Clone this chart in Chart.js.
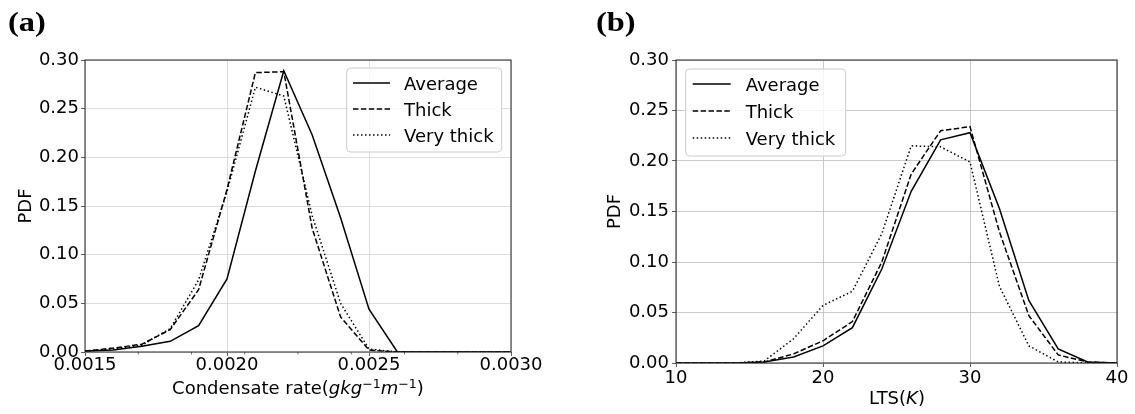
<!DOCTYPE html>
<html>
<head>
<meta charset="utf-8">
<script src="https://cdn.jsdelivr.net/npm/chart.js@4.4.0/dist/chart.umd.min.js"></script>
<style>
  html, body { margin: 0; padding: 0; background: #fff; }
  #wrap { position: relative; width: 1135px; height: 414px; overflow: hidden; }
  canvas { position: absolute; top: 0; }
  .tag { position: absolute; font: bold 27px "Liberation Serif", serif; line-height: 28px; transform: scaleX(1.2); transform-origin: left top; }
  .xtitle { position: absolute; font: 18px "DejaVu Sans", sans-serif; line-height: 18px; white-space: nowrap; transform: translateX(-50%); color: #000; }
  .xtitle .sup { position: relative; top: -0.5em; font-size: 0.7em; }
</style>
</head>
<body>
<div id="wrap">
  <canvas id="chartA" width="567" height="414" style="left:0"></canvas>
  <canvas id="chartB" width="568" height="414" style="left:567px"></canvas>
  <div class="tag" style="left:8px;top:8px">(a)</div>
  <div class="tag" style="left:596px;top:8px">(b)</div>
  <div class="xtitle" style="left:298px;top:379px">Condensate rate(<i>gkg</i><span class="sup">−1</span><i>m</i><span class="sup">−1</span>)</div>
  <div class="xtitle" style="left:897px;top:389px">LTS(<i>K</i>)</div>
</div>
<script>
// panel (a): condensate rate
let rateA = [0.0015, 0.0016, 0.0017, 0.0018, 0.0019, 0.0020, 0.0021, 0.0022,
             0.0023, 0.0024, 0.0025, 0.0026, 0.0027, 0.0028, 0.0029, 0.0030];
let averageA   = [0.001, 0.002, 0.006, 0.011, 0.027, 0.075, 0.186, 0.289, 0.223, 0.138, 0.044, 0, 0, 0, 0, 0];
let thickA     = [0.001, 0.004, 0.008, 0.023, 0.064, 0.167, 0.287, 0.288, 0.127, 0.036, 0.002, 0, 0, 0, 0, 0];
let veryThickA = [0.001, 0.003, 0.007, 0.024, 0.074, 0.165, 0.272, 0.263, 0.140, 0.050, 0.003, 0, 0, 0, 0, 0];
let xTicksA = [0.0015, 0.0020, 0.0025, 0.0030];
let minorTicksA = [0.0016875, 0.001875, 0.0020625, 0.00225, 0.0024375, 0.002625, 0.0028125];

// panel (b): LTS
let ltsB = [10, 12, 14, 16, 18, 20, 22, 24, 26, 28, 30, 32, 34, 36, 38, 40];
let averageB   = [0, 0, 0, 0.001, 0.006, 0.017, 0.035, 0.093, 0.170, 0.221, 0.228, 0.153, 0.062, 0.014, 0.001, 0];
let thickB     = [0, 0, 0, 0.001, 0.009, 0.022, 0.041, 0.100, 0.187, 0.230, 0.234, 0.130, 0.047, 0.008, 0.001, 0];
let veryThickB = [0, 0, 0, 0.002, 0.024, 0.057, 0.071, 0.128, 0.215, 0.214, 0.199, 0.076, 0.017, 0.001, 0, 0];
let xTicksB = [10, 20, 30, 40];

let yTicks = [0, 0.05, 0.10, 0.15, 0.20, 0.25, 0.30];
let seriesNames = ['Average', 'Thick', 'Very thick'];
let dashes = [[], [5.5, 2.4], [1.5, 2.5]];

Chart.defaults.font.family = '"DejaVu Sans", sans-serif';
Chart.defaults.font.size = 18;
Chart.defaults.color = '#000';

// top/right/left/bottom spines
const frame = {
  id: 'frame',
  afterDraw(chart) {
    const ctx = chart.ctx, a = chart.chartArea;
    ctx.save();
    ctx.strokeStyle = '#222';
    ctx.lineWidth = 1;
    ctx.strokeRect(a.left, a.top, a.right - a.left, a.bottom - a.top);
    ctx.restore();
  }
};

const minorTicks = {
  id: 'minorTicks',
  afterDraw(chart, args, opts) {
    if (!opts.values) return;
    const ctx = chart.ctx, sx = chart.scales.x, b = chart.chartArea.bottom;
    ctx.save();
    ctx.strokeStyle = '#333';
    ctx.lineWidth = 0.7;
    opts.values.forEach(v => {
      const px = sx.getPixelForValue(v);
      ctx.beginPath();
      ctx.moveTo(px, b);
      ctx.lineTo(px, b + 2.5);
      ctx.stroke();
    });
    ctx.restore();
  }
};

const boxLegend = {
  id: 'boxLegend',
  afterDraw(chart, args, o) {
    const ctx = chart.ctx, a = chart.chartArea;
    const x = o.side === 'right' ? a.right - o.dx - o.w : a.left + o.dx;
    const y = a.top + o.dy;
    ctx.save();
    ctx.beginPath();
    ctx.roundRect(x, y, o.w, o.h, 4);
    ctx.fillStyle = 'rgba(255,255,255,0.8)';
    ctx.fill();
    ctx.strokeStyle = '#cccccc';
    ctx.lineWidth = 1;
    ctx.stroke();
    ctx.font = '18px "DejaVu Sans"';
    ctx.fillStyle = '#000';
    chart.data.datasets.forEach((ds, i) => {
      const ly = y + o.first + i * o.step;
      ctx.beginPath();
      ctx.setLineDash(ds.borderDash);
      ctx.lineWidth = ds.borderWidth;
      ctx.strokeStyle = ds.borderColor;
      ctx.moveTo(x + o.pad, ly);
      ctx.lineTo(x + o.pad + o.len, ly);
      ctx.stroke();
      ctx.setLineDash([]);
      ctx.fillText(ds.label, x + o.textX, ly + 6.5);
    });
    ctx.restore();
  }
};

makeDatasets = (xs, lists) => lists.map((vals, i) => ({
  label: seriesNames[i],
  data: xs.map((x, j) => ({ x: x, y: vals[j] })),
  borderColor: '#000',
  borderWidth: 1.5,
  borderDash: dashes[i],
  pointRadius: 0,
  tension: 0,
  fill: false
}));

makeChart = (id, p) => {
  return new Chart(document.getElementById(id), {
    type: 'line',
    data: { datasets: makeDatasets(p.xs, p.series) },
    plugins: [frame, minorTicks, boxLegend],
    options: {
      responsive: false,
      animation: false,
      layout: { padding: { top: 60, right: p.padRight, left: 0, bottom: 0 } },
      plugins: {
        legend: { display: false },
        tooltip: { enabled: false },
        minorTicks: { values: p.minor },
        boxLegend: p.legend
      },
      scales: {
        x: {
          type: 'linear',
          min: p.xs[0],
          max: p.xs[p.xs.length - 1],
          afterBuildTicks: s => { s.ticks = p.xTicks.map(v => ({ value: v })); },
          afterFit: s => { s.height = p.xHeight; },
          border: { display: false },
          grid: { color: p.gridColor, lineWidth: 0.8, tickColor: '#333', tickLength: 4, tickWidth: 0.8 },
          ticks: {
            maxRotation: 0,
            autoSkip: false,
            padding: p.xPad,
            font: { size: 18, lineHeight: 1 },
            callback: p.xFormat
          }
        },
        y: {
          min: 0,
          max: 0.3,
          afterBuildTicks: s => { s.ticks = yTicks.map(v => ({ value: v })); },
          afterFit: s => { s.width = p.yWidth; },
          border: { display: false },
          grid: { color: p.gridColor, lineWidth: 0.8, tickColor: '#333', tickLength: 4, tickWidth: 0.8 },
          ticks: { padding: p.yPad, callback: v => v.toFixed(2) },
          title: { display: true, text: 'PDF', font: { size: 18 }, padding: { top: p.titlePad, bottom: 0 } }
        }
      }
    }
  });
}

makeChart('chartA', {
  xs: rateA,
  series: [averageA, thickA, veryThickA],
  xTicks: xTicksA,
  minor: minorTicksA,
  xFormat: v => v.toFixed(4),
  padRight: 56,
  xHeight: 62,
  yWidth: 85,
  xPad: 0,
  yPad: 2,
  titlePad: 15.7,
  gridColor: '#d4d4d4',
  legend: { side: 'right', dx: 9.3, dy: 8, w: 155, h: 84, first: 15, step: 26, pad: 6.3, len: 37, textX: 57.3 }
});

makeChart('chartB', {
  xs: ltsB,
  series: [averageB, thickB, veryThickB],
  xTicks: xTicksB,
  minor: null,
  xFormat: v => String(v),
  padRight: 18,
  xHeight: 51,
  yWidth: 109,
  xPad: 2.5,
  yPad: 3,
  titlePad: 37.7,
  gridColor: '#bcbcbc',
  legend: { side: 'left', dx: 9.7, dy: 9, w: 160, h: 87, first: 15, step: 27, pad: 7, len: 38, textX: 60 }
});
</script>
</body>
</html>
